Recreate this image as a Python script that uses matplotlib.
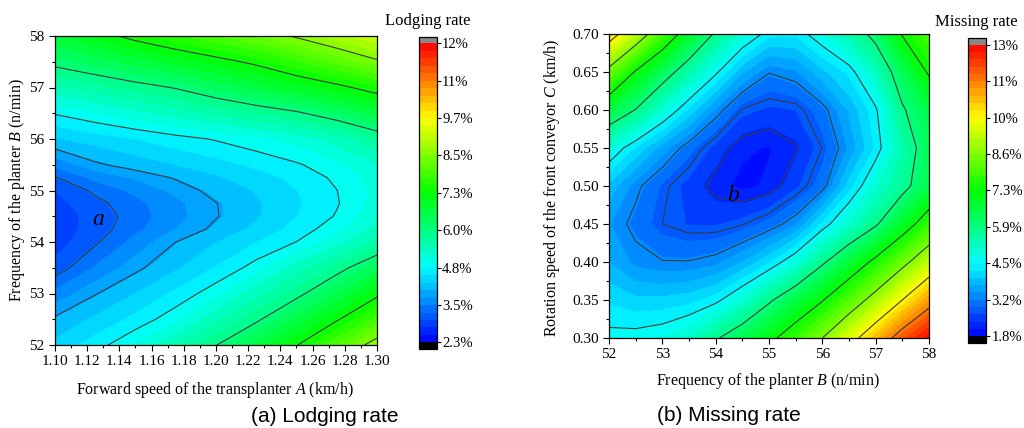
import numpy as np
import matplotlib
matplotlib.use('Agg')
from matplotlib import pyplot as plt
from matplotlib.colors import LinearSegmentedColormap
from matplotlib.ticker import MultipleLocator, FormatStrFormatter

plt.rcParams['font.family'] = ['Liberation Serif', 'DejaVu Serif']
plt.rcParams['mathtext.fontset'] = 'custom'
plt.rcParams['mathtext.rm'] = 'Liberation Serif'
plt.rcParams['mathtext.it'] = 'Liberation Serif:italic'

# (a) lodging rate (%) on forward speed A x planter frequency B
speed_a = [1.100, 1.125, 1.150, 1.175, 1.200, 1.225, 1.250, 1.275, 1.300]
freq_b = [52.0, 52.5, 53.0, 53.5, 54.0, 54.25, 54.5, 54.75, 55.0, 55.25,
          55.5, 56.0, 56.5, 57.0, 57.5, 58.0]
lodging = [
    [4.35, 4.65, 5.04, 5.50, 6.00, 6.60, 7.23, 7.97, 8.72],
    [4.05, 4.33, 4.60, 4.95, 5.44, 5.93, 6.55, 7.20, 7.85],
    [3.60, 3.98, 4.28, 4.58, 4.94, 5.41, 5.88, 6.49, 7.15],
    [3.15, 3.56, 3.93, 4.24, 4.54, 4.89, 5.37, 5.84, 6.42],
    [2.90, 3.26, 3.62, 4.00, 4.27, 4.52, 4.78, 5.15, 5.60],
    [2.87, 3.17, 3.47, 3.79, 4.07, 4.35, 4.62, 4.94, 5.36],
    [2.88, 3.15, 3.42, 3.70, 3.98, 4.25, 4.52, 4.80, 5.20],
    [2.94, 3.22, 3.46, 3.72, 3.99, 4.24, 4.49, 4.75, 5.11],
    [3.05, 3.36, 3.60, 3.85, 4.10, 4.30, 4.52, 4.77, 5.10],
    [3.28, 3.61, 3.82, 4.03, 4.24, 4.41, 4.60, 4.83, 5.14],
    [3.60, 3.95, 4.13, 4.28, 4.43, 4.58, 4.74, 4.95, 5.25],
    [4.25, 4.39, 4.53, 4.67, 4.80, 4.95, 5.12, 5.38, 5.75],
    [4.80, 4.99, 5.18, 5.38, 5.57, 5.76, 5.95, 6.25, 6.60],
    [5.45, 5.65, 5.85, 6.04, 6.32, 6.59, 6.86, 7.13, 7.45],
    [6.15, 6.38, 6.62, 6.85, 7.09, 7.35, 7.71, 8.06, 8.42],
    [6.70, 7.06, 7.39, 7.68, 7.96, 8.25, 8.54, 8.87, 9.20],
]
lodging_lines = [3.3, 4.0, 4.775, 6.0125, 7.25, 8.4875]
lodging_range = [2.3, 12.2]
lodging_ticklabels = ['2.3%', '3.5%', '4.8%', '6.0%', '7.3%', '8.5%', '9.7%', '11%', '12%']

# (b) missing rate (%) on planter frequency B x conveyor speed C
freq_b2 = [52.0, 52.5, 53.0, 53.5, 54.0, 54.5, 55.0, 55.5, 56.0, 56.5, 57.0, 57.5, 58.0]
conv_c = [0.30, 0.35, 0.40, 0.45, 0.50, 0.55, 0.60, 0.65, 0.70]
missing = [
    [4.65, 4.68, 4.80, 5.10, 5.80, 6.41, 7.03, 7.78, 8.61, 9.59, 10.66, 11.78, 12.60],
    [4.20, 4.05, 4.05, 4.15, 4.40, 4.99, 5.77, 6.49, 7.20, 8.05, 8.96, 9.98, 11.00],
    [3.70, 3.35, 3.22, 3.22, 3.35, 3.70, 4.20, 4.88, 5.77, 6.61, 7.46, 8.35, 9.30],
    [3.45, 3.07, 2.75, 2.60, 2.58, 2.73, 2.99, 3.40, 4.30, 5.07, 5.79, 6.78, 7.75],
    [3.90, 3.30, 2.84, 2.50, 2.18, 2.00, 2.12, 2.54, 3.05, 4.10, 5.00, 5.63, 6.45],
    [4.90, 4.21, 3.58, 3.01, 2.50, 2.12, 2.05, 2.27, 2.76, 3.48, 4.30, 5.37, 6.35],
    [6.55, 5.86, 4.99, 4.17, 3.39, 2.72, 2.55, 2.62, 3.06, 3.74, 4.45, 5.80, 6.50],
    [8.35, 7.18, 6.29, 5.44, 4.61, 3.75, 3.22, 3.40, 3.90, 4.33, 5.22, 6.35, 7.35],
    [10.42, 9.20, 7.94, 6.78, 5.78, 4.97, 4.35, 4.30, 4.81, 5.41, 6.12, 7.30, 8.00],
]
missing_lines = [2.3, 2.75, 3.2, 4.525, 5.8875, 7.25, 8.6125, 9.975, 11.3375]
missing_range = [1.8, 12.7]
missing_ticklabels = ['1.8%', '3.2%', '4.5%', '5.9%', '7.3%', '8.6%', '10%', '11%', '13%']

cmap = LinearSegmentedColormap.from_list(
    'origin_rainbow',
    [(0.0, (0, 0, 1)), (0.25, (0, 1, 1)), (0.5, (0, 1, 0)),
     (0.75, (1, 1, 0)), (1.0, (1, 0, 0))])
cmap.set_under('black')
cmap.set_over('#888888')

fig = plt.figure(figsize=(10.24, 4.28), dpi=100)
W, H = 1024, 428


def px(x0, y0, x1, y1):
    # pixel box -> figure fraction [left, bottom, width, height]
    return [x0 / W, 1 - y1 / H, (x1 - x0) / W, (y1 - y0) / H]


def panel(ax, cax, x, y, z, lines, vrange, ticklabels):
    levels = np.linspace(vrange[0], vrange[1], 41)
    cs = ax.contourf(x, y, z, levels=levels, cmap=cmap, extend='both')
    ax.contour(x, y, z, levels=lines, colors='#3a3a3a', linewidths=0.8)
    for s in ax.spines.values():
        s.set_linewidth(0.9)
    ax.tick_params(which='both', direction='out', labelsize=11, width=0.8)
    ax.tick_params(which='major', length=4)
    ax.tick_params(which='minor', length=2.5)
    cb = fig.colorbar(cs, cax=cax, extendrect=True, extendfrac=0.022,
                      ticks=np.linspace(vrange[0], vrange[1], 9))
    cb.set_ticklabels(ticklabels)
    cb.outline.set_linewidth(0.9)
    cax.tick_params(direction='out', length=3, width=0.8, labelsize=10.5, pad=1)
    cax.minorticks_off()
    return cs


# left panel
ax1 = fig.add_axes(px(55, 36, 377, 345))
cax1 = fig.add_axes(px(419, 36.7, 436.5, 349))
panel(ax1, cax1, speed_a, freq_b, lodging, lodging_lines, lodging_range,
      lodging_ticklabels)
ax1.set_xlim(1.10, 1.30)
ax1.set_ylim(52, 58)
ax1.xaxis.set_major_locator(MultipleLocator(0.02))
ax1.xaxis.set_minor_locator(MultipleLocator(0.01))
ax1.xaxis.set_major_formatter(FormatStrFormatter('%.2f'))
ax1.yaxis.set_major_locator(MultipleLocator(1))
ax1.yaxis.set_minor_locator(MultipleLocator(0.5))
ax1.text(1.1267, 54.43, 'a', fontsize=17, style='italic', ha='center', va='center')

# right panel
ax2 = fig.add_axes(px(609, 34, 929, 338))
cax2 = fig.add_axes(px(968, 38.3, 986, 342.5))
panel(ax2, cax2, freq_b2, conv_c, missing, missing_lines, missing_range,
      missing_ticklabels)
ax2.set_xlim(52, 58)
ax2.set_ylim(0.30, 0.70)
ax2.xaxis.set_major_locator(MultipleLocator(1))
ax2.xaxis.set_minor_locator(MultipleLocator(0.5))
ax2.yaxis.set_major_locator(MultipleLocator(0.05))
ax2.yaxis.set_minor_locator(MultipleLocator(0.025))
ax2.yaxis.set_major_formatter(FormatStrFormatter('%.2f'))
ax2.text(54.33, 0.487, 'b', fontsize=17, style='italic', ha='center', va='center')

# labels
fig.text(215 / W, 1 - 394 / H, r'Forward speed of the transplanter $\mathit{A}$ (km/h)',
         ha='center', va='baseline', fontsize=11.5)
fig.text(17 / W, 1 - 190 / H, r'Frequency of the planter $\mathit{B}$ (n/min)',
         ha='center', va='center', rotation=90, fontsize=11.5)
fig.text(768 / W, 1 - 385 / H, r'Frequency of the planter $\mathit{B}$ (n/min)',
         ha='center', va='baseline', fontsize=11.5)
fig.text(552 / W, 1 - 188 / H, r'Rotation speed of the front conveyor $\mathit{C}$ (km/h)',
         ha='center', va='center', rotation=90, fontsize=11.5)
fig.text(427.5 / W, 1 - 25 / H, 'Lodging rate', ha='center', va='baseline', fontsize=12)
fig.text(976.5 / W, 1 - 26 / H, 'Missing rate', ha='center', va='baseline', fontsize=12)

fig.text(325 / W, 1 - 422 / H, '(a) Lodging rate', ha='center', va='baseline',
         fontsize=15, family='Liberation Sans')
fig.text(729 / W, 1 - 421 / H, '(b) Missing rate', ha='center', va='baseline',
         fontsize=15, family='Liberation Sans')

fig.savefig('out.png', dpi=100)
